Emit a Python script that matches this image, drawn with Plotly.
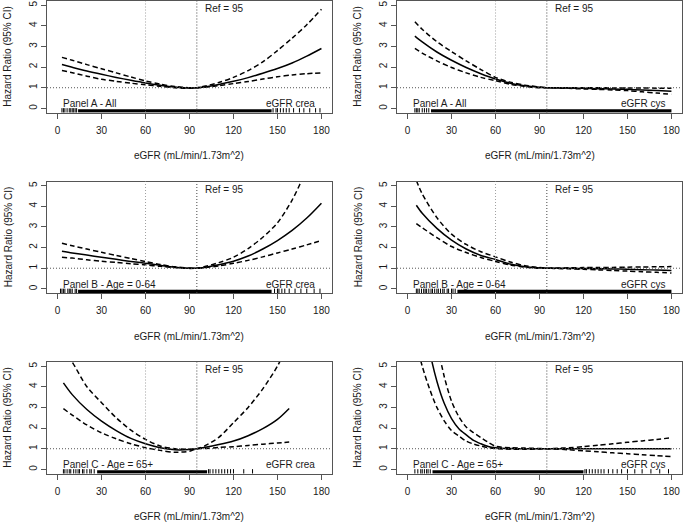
import plotly.graph_objects as go

# ---------------- data ----------------
x_ticks = [0, 30, 60, 90, 120, 150, 180]
y_ticks = [0, 1, 2, 3, 4, 5]
ref_x = 95
cut_x = 60

panel_names = ["Panel A - All", "Panel A - All",
               "Panel B - Age = 0-64", "Panel B - Age = 0-64",
               "Panel C - Age = 65+", "Panel C - Age = 65+"]
marker_names = ["eGFR crea", "eGFR cys", "eGFR crea", "eGFR cys", "eGFR crea", "eGFR cys"]

# Panel A - eGFR crea
a_crea_x = [3, 10, 20, 30, 40, 50, 60, 70, 80, 90, 95, 100, 110, 120, 130, 140, 150, 160, 170, 180]
a_crea_hr = [2.12, 1.99, 1.81, 1.65, 1.50, 1.36, 1.23, 1.12, 1.03, 0.985, 1.0, 1.04, 1.16, 1.31, 1.49, 1.70, 1.93, 2.2, 2.53, 2.9]
a_crea_up = [2.47, 2.33, 2.12, 1.92, 1.72, 1.52, 1.33, 1.17, 1.06, 1.0, 1.0, 1.07, 1.25, 1.5, 1.83, 2.25, 2.8, 3.4, 4.05, 4.8]
a_crea_lo = [1.83, 1.73, 1.56, 1.41, 1.31, 1.22, 1.14, 1.07, 1.0, 0.97, 1.0, 1.02, 1.1, 1.2, 1.3, 1.42, 1.53, 1.62, 1.68, 1.72]
a_crea_rug_dense = [14, 146]
a_crea_rug = [3, 4, 5, 6.5, 8, 9, 10, 11, 12, 13, 147, 149, 150, 152, 154, 156, 158,
              161, 165, 168, 172, 176, 179]

# Panel A - eGFR cys
a_cys_x = [5, 10, 20, 30, 40, 50, 60, 70, 80, 90, 95, 100, 110, 120, 130, 140, 150, 160, 170, 180]
a_cys_hr = [3.5, 3.22, 2.73, 2.33, 1.98, 1.68, 1.42, 1.22, 1.09, 1.02, 1.0, 0.995, 0.985, 0.97, 0.955, 0.94, 0.92, 0.89, 0.86, 0.83]
a_cys_up = [4.2, 3.83, 3.23, 2.75, 2.3, 1.88, 1.5, 1.27, 1.12, 1.04, 1.0, 1.0, 1.0, 1.0, 1.0, 0.99, 0.99, 0.985, 0.98, 0.98]
a_cys_lo = [2.9, 2.68, 2.3, 1.98, 1.72, 1.5, 1.34, 1.17, 1.06, 1.0, 1.0, 0.99, 0.97, 0.94, 0.92, 0.89, 0.86, 0.8, 0.74, 0.68]
a_cys_rug_dense = [16, 180]
a_cys_rug = [5, 6, 7, 8, 10, 11.5, 13, 14.5]

# Panel B - eGFR crea
b_crea_x = [3, 10, 20, 30, 40, 50, 60, 70, 80, 90, 95, 100, 110, 120, 130, 140, 150, 160, 170, 180]
b_crea_hr = [1.82, 1.74, 1.64, 1.53, 1.43, 1.33, 1.24, 1.14, 1.05, 1.0, 1.0, 1.04, 1.17, 1.34, 1.59, 1.93, 2.34, 2.83, 3.43, 4.15]
b_crea_up = [2.21, 2.09, 1.93, 1.77, 1.62, 1.47, 1.32, 1.18, 1.07, 1.01, 1.0, 1.07, 1.27, 1.53, 1.95, 2.5, 3.2, 4.3, 5.8, 7.5]
b_crea_lo = [1.53, 1.49, 1.41, 1.34, 1.28, 1.22, 1.16, 1.09, 1.03, 0.99, 1.0, 1.02, 1.11, 1.24, 1.38, 1.55, 1.74, 1.93, 2.13, 2.34]
b_crea_rug_dense = [14, 146]
b_crea_rug = [2, 3, 4, 5, 7, 8, 9, 10, 12, 13, 148, 150, 151, 153, 155, 158, 162,
              166, 170, 175, 179]

# Panel B - eGFR cys
b_cys_x = [6, 10, 20, 30, 40, 50, 60, 70, 80, 90, 95, 100, 110, 120, 130, 140, 150, 160, 170, 180]
b_cys_hr = [4.05, 3.66, 2.93, 2.36, 1.93, 1.62, 1.42, 1.2, 1.07, 1.02, 1.0, 1.0, 0.995, 0.99, 0.98, 0.965, 0.95, 0.93, 0.91, 0.89]
b_cys_up = [5.25, 4.6, 3.45, 2.65, 2.15, 1.8, 1.55, 1.3, 1.12, 1.03, 1.0, 1.01, 1.02, 1.03, 1.04, 1.04, 1.05, 1.06, 1.07, 1.08]
b_cys_lo = [3.16, 2.96, 2.48, 2.05, 1.76, 1.52, 1.33, 1.16, 1.05, 1.0, 1.0, 0.99, 0.97, 0.95, 0.92, 0.89, 0.86, 0.83, 0.8, 0.77]
b_cys_rug_dense = [34, 180]
b_cys_rug = [6, 7, 8, 9.5, 11, 12, 13, 14.5, 16, 17, 18.5, 20, 21, 22.5, 24, 25,
             27, 28, 30, 31, 32.5]

# Panel C - eGFR crea
c_crea_x = [4, 10, 20, 30, 40, 50, 60, 70, 80, 90, 95, 100, 110, 120, 130, 140, 150, 158]
c_crea_hr = [4.19, 3.62, 2.9, 2.34, 1.88, 1.5, 1.24, 1.05, 0.95, 0.96, 1.0, 1.06, 1.2, 1.37, 1.63, 1.97, 2.42, 2.95]
c_crea_up = [5.8, 5.2, 4.0, 3.23, 2.5, 1.9, 1.45, 1.13, 1.0, 0.98, 1.0, 1.12, 1.55, 2.26, 3.0, 3.9, 5.0, 6.2]
c_crea_lo = [2.94, 2.63, 2.15, 1.77, 1.48, 1.24, 1.05, 0.92, 0.83, 0.88, 1.0, 1.01, 1.06, 1.1, 1.16, 1.22, 1.28, 1.32]
c_crea_rug_dense = [27, 102]
c_crea_rug = [4, 5, 6.5, 8, 9, 11, 12.5, 14, 15, 17, 18, 20, 22, 23, 25, 103, 104,
              106, 108, 110, 112, 114, 116, 118, 120, 127, 133]

# Panel C - eGFR cys
c_cys_x = [5, 10, 15, 20, 25, 30, 35, 40, 45, 50, 55, 60, 70, 80, 90, 95, 100, 110, 120, 130, 140, 150, 160, 170, 180]
c_cys_hr = [10.5, 7.8, 5.75, 4.27, 3.2, 2.46, 1.97, 1.67, 1.4, 1.24, 1.11, 1.05, 1.01, 1.0, 1.0, 1.0, 1.0, 1.0, 1.0, 1.0, 1.0, 1.0, 1.0, 1.0, 1.0]
c_cys_up = [16.6, 12.0, 8.6, 6.2, 4.5, 3.3, 2.55, 2.05, 1.78, 1.54, 1.31, 1.12, 1.05, 1.03, 1.01, 1.0, 1.01, 1.05, 1.1, 1.17, 1.24, 1.31, 1.38, 1.45, 1.53]
c_cys_lo = [6.4, 5.0, 3.9, 3.0, 2.35, 1.88, 1.62, 1.37, 1.23, 1.13, 1.05, 1.01, 0.98, 0.97, 0.99, 1.0, 0.99, 0.95, 0.9, 0.85, 0.8, 0.76, 0.71, 0.66, 0.62]
c_cys_rug_dense = [17, 120]
c_cys_rug = [5, 7, 9, 10, 11.5, 13, 14, 15.5, 121, 122, 124, 126, 128, 130, 132, 134,
             137, 140, 143, 146, 150, 155, 160, 166, 172, 178]

panels = [
    (a_crea_x, a_crea_hr, a_crea_up, a_crea_lo, a_crea_rug_dense, a_crea_rug),
    (a_cys_x, a_cys_hr, a_cys_up, a_cys_lo, a_cys_rug_dense, a_cys_rug),
    (b_crea_x, b_crea_hr, b_crea_up, b_crea_lo, b_crea_rug_dense, b_crea_rug),
    (b_cys_x, b_cys_hr, b_cys_up, b_cys_lo, b_cys_rug_dense, b_cys_rug),
    (c_crea_x, c_crea_hr, c_crea_up, c_crea_lo, c_crea_rug_dense, c_crea_rug),
    (c_cys_x, c_cys_hr, c_cys_up, c_cys_lo, c_cys_rug_dense, c_cys_rug),
]

# ---------------- layout geometry ----------------
W, H = 685, 523
FONT = "Liberation Sans, Arial, sans-serif"
TXT = "#1a1a1a"
AX = "#555555"
col_left = [47, 397]
col_w = 285
row_top = [1, 181.5, 362]
row_h = 111.5
XR = [-7.2, 187.2]
YR = [-0.2, 5.2]

fig = go.Figure()
layout = dict(
    width=W, height=H, margin=dict(l=0, r=0, t=0, b=0),
    paper_bgcolor="white", plot_bgcolor="white", showlegend=False,
    font=dict(family=FONT, size=10, color=TXT),
)
annotations = []
shapes = []

for i, (px, hr, up, lo, dense, rug) in enumerate(panels):
    r, c = divmod(i, 2)
    xa = "x" if i == 0 else f"x{i+1}"
    ya = "y" if i == 0 else f"y{i+1}"
    xkey = "xaxis" if i == 0 else f"xaxis{i+1}"
    ykey = "yaxis" if i == 0 else f"yaxis{i+1}"
    x0 = col_left[c] / W
    x1 = (col_left[c] + col_w) / W
    ytop = 1 - row_top[r] / H
    ybot = 1 - (row_top[r] + row_h) / H
    layout[xkey] = dict(domain=[x0, x1], range=XR, anchor=ya, tickvals=x_ticks,
                        ticks="outside", ticklen=5, tickcolor=AX, showline=True,
                        linecolor=AX, linewidth=1, mirror=True, showgrid=False,
                        zeroline=False, tickfont=dict(size=10, color=TXT),
                        ticklabelstandoff=3, automargin=False)
    layout[ykey] = dict(domain=[ybot, ytop], range=YR, anchor=xa, tickvals=y_ticks,
                        ticks="outside", ticklen=5, tickcolor=AX, showline=True,
                        linecolor=AX, linewidth=1, mirror=True, showgrid=False,
                        zeroline=False, tickangle=-90, automargin=False,
                        tickfont=dict(size=10, color=TXT))

    # reference lines
    shapes.append(dict(type="line", xref=xa, yref=f"{ya} domain", x0=cut_x, x1=cut_x,
                       y0=0, y1=1, line=dict(color="#a0a0a0", width=1, dash="1px,2px")))
    shapes.append(dict(type="line", xref=xa, yref=f"{ya} domain", x0=ref_x, x1=ref_x,
                       y0=0, y1=1, line=dict(color="#444444", width=1, dash="1px,2px")))
    shapes.append(dict(type="line", xref=f"{xa} domain", yref=ya, x0=0, x1=1,
                       y0=1, y1=1, line=dict(color="#555555", width=1, dash="1px,2px")))

    # rug
    fig.add_trace(go.Scatter(x=dense, y=[-0.125, -0.125], mode="lines",
                             line=dict(color="black", width=3.5), xaxis=xa, yaxis=ya,
                             hoverinfo="skip"))
    fig.add_trace(go.Scatter(x=rug, y=[-0.125] * len(rug), mode="markers",
                             marker=dict(symbol="line-ns", size=4,
                                         line=dict(color="black", width=1)),
                             xaxis=xa, yaxis=ya, hoverinfo="skip"))

    # curves
    for ys, dash in ((up, "5px,3px"), (lo, "5px,3px"), (hr, "solid")):
        fig.add_trace(go.Scatter(x=px, y=ys, mode="lines",
                                 line=dict(color="black", width=1.5, dash=dash,
                                           shape="spline", smoothing=0.8),
                                 xaxis=xa, yaxis=ya))

    # texts
    annotations.append(dict(x=ref_x + 4, y=4.82, xref=xa, yref=ya, text="Ref = 95",
                            showarrow=False, xanchor="left", yanchor="middle",
                            font=dict(size=10, color=TXT)))
    annotations.append(dict(x=2.5, y=0.22, xref=xa, yref=ya, text=panel_names[i],
                            showarrow=False, xanchor="left", yanchor="middle",
                            font=dict(size=10, color=TXT)))
    annotations.append(dict(x=177, y=0.22, xref=xa, yref=ya, text=marker_names[i],
                            showarrow=False, xanchor="right", yanchor="middle",
                            font=dict(size=10, color=TXT)))
    # axis titles
    cx = (col_left[c] + col_w / 2) / W
    annotations.append(dict(x=cx, y=1 - (row_top[r] + row_h + 43) / H, xref="paper",
                            yref="paper", text="eGFR (mL/min/1.73m^2)", showarrow=False,
                            xanchor="center", yanchor="middle",
                            font=dict(size=10, color=TXT)))
    annotations.append(dict(x=(col_left[c] - 39) / W, y=1 - (row_top[r] + row_h / 2) / H,
                            xref="paper", yref="paper", text="Hazard Ratio (95% CI)",
                            showarrow=False, textangle=-90, xanchor="center",
                            yanchor="middle", font=dict(size=10, color=TXT)))

layout["annotations"] = annotations
layout["shapes"] = shapes
fig.update_layout(**layout)
fig.write_html("out.html", config={"displayModeBar": False},
               post_script="document.body.style.margin='0';document.body.style.overflow='hidden';")
